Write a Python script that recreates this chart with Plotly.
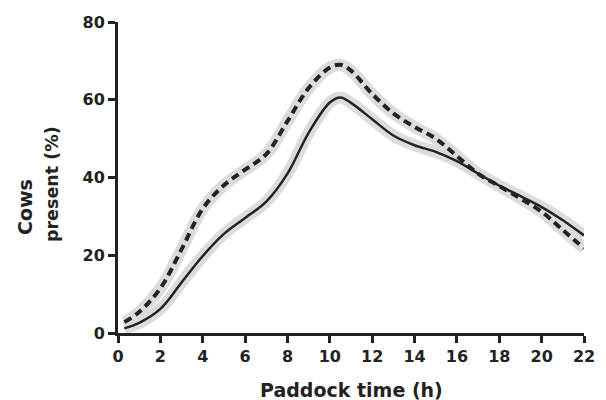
import plotly.graph_objects as go

# Data
hours = [0.3, 1, 2, 3, 4, 5, 6, 7, 8, 9, 10, 10.5, 11, 12, 13, 14, 15, 16, 17, 18, 19, 20, 21, 22]
dashed_pct = [2.8, 5.4, 11.5, 21.5, 32, 38, 42, 46, 54.5, 63, 68.3, 69, 67.5, 61.5, 56.5, 53, 50, 45.5, 41, 37.8, 34.6, 31.2, 26.5, 21.8]
solid_pct = [1.2, 2.6, 6.2, 13, 19.8, 25.5, 29.6, 33.8, 41, 51.5, 59.3, 60.6, 59.2, 55, 50.8, 48.3, 46.6, 44.2, 41, 37.9, 35.2, 32.4, 29, 25.1]

x_ticks = [0, 2, 4, 6, 8, 10, 12, 14, 16, 18, 20, 22]
y_ticks = [0, 20, 40, 60, 80]

INK = "#222222"
BAND = "#dcdcdc"
FONT = "DejaVu Sans"

fig = go.Figure()
for ys in (dashed_pct, solid_pct):
    fig.add_trace(go.Scatter(x=hours, y=ys, mode="lines",
                             line=dict(color=BAND, width=12, shape="spline", smoothing=1.0),
                             hoverinfo="skip", showlegend=False))
fig.add_trace(go.Scatter(x=hours, y=dashed_pct, mode="lines",
                         line=dict(color=INK, width=4, dash="8px,5px", shape="spline", smoothing=1.0),
                         showlegend=False))
fig.add_trace(go.Scatter(x=hours, y=solid_pct, mode="lines",
                         line=dict(color=INK, width=2.5, shape="spline", smoothing=1.0),
                         showlegend=False))

axis_common = dict(showgrid=False, zeroline=False, showline=True, linecolor=INK, linewidth=3,
                   ticks="outside", ticklen=7, tickwidth=3, tickcolor=INK,
                   tickfont=dict(family=FONT, size=16, color=INK, weight="bold"))

fig.update_xaxes(range=[0, 22], tickvals=x_ticks, ticktext=[str(v) for v in x_ticks], **axis_common)
fig.update_yaxes(range=[0, 80], tickvals=y_ticks, ticktext=[str(v) for v in y_ticks], **axis_common)

fig.add_annotation(text="<b>Paddock time (h)</b>", xref="paper", yref="paper",
                   x=0.502, y=-0.183, xanchor="center", yanchor="middle", showarrow=False,
                   font=dict(family=FONT, size=19, color=INK))
fig.add_annotation(text="<b>Cows</b>", xref="paper", yref="paper",
                   x=-0.1996, y=0.405, xanchor="center", yanchor="middle", showarrow=False,
                   textangle=-90, font=dict(family=FONT, size=19, color=INK))
fig.add_annotation(text="<b>present (%)</b>", xref="paper", yref="paper",
                   x=-0.1416, y=0.479, xanchor="center", yanchor="middle", showarrow=False,
                   textangle=-90, font=dict(family=FONT, size=17.5, color=INK))

fig.update_layout(width=606, height=400, margin=dict(l=118, r=22, t=22, b=67),
                  plot_bgcolor="white", paper_bgcolor="white")

fig.write_html("out.html", config={"displayModeBar": False},
               post_script="document.body.style.margin='0';document.body.style.overflow='hidden';")
